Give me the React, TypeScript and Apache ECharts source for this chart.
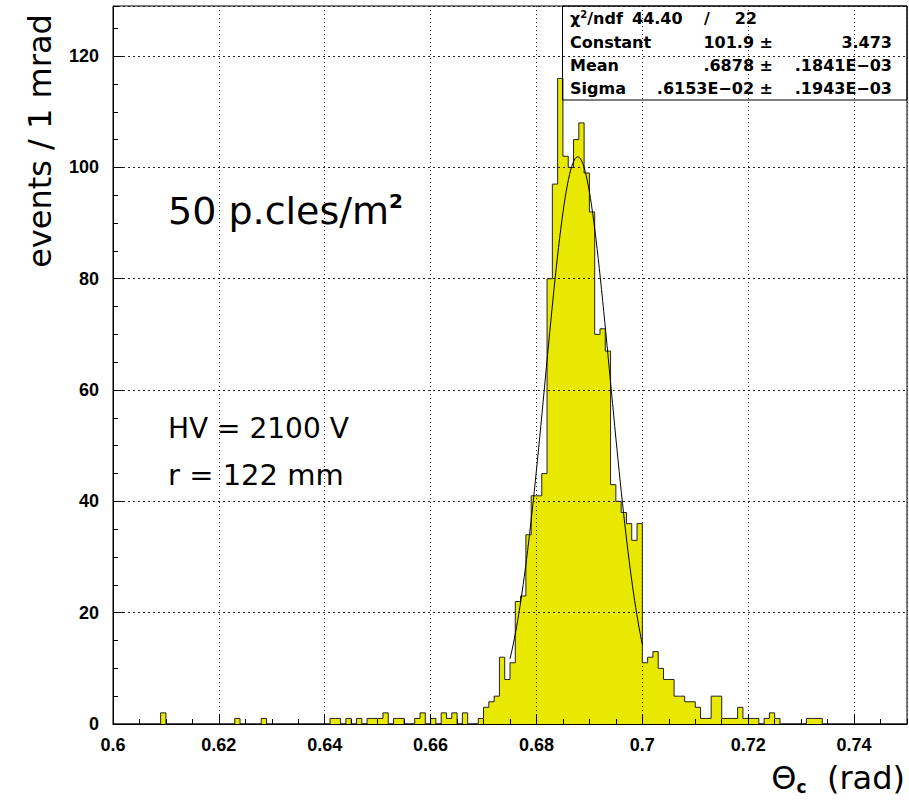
import React, { useEffect, useRef } from 'react';
import * as echarts from 'echarts';

// ---- histogram definition (1 mrad bins from 0.600 to 0.750 rad) ----
const BIN_START = 0.6;
const BIN_WIDTH = 0.001;
const X_MIN = 0.6;
const X_MAX = 0.75;
const Y_MIN = 0;
const Y_MAX = 129;

// events per bin, bin i covers [0.600 + i*0.001, 0.601 + i*0.001)
const COUNTS_0600_0629 = [0, 0, 0, 0, 0, 0, 0, 0, 0, 2, 0, 0, 0, 0, 0, 0, 0, 0, 0, 0, 0, 0, 0, 1, 0, 0, 0, 0, 1, 0];
const COUNTS_0630_0659 = [0, 0, 0, 0, 0, 0, 0, 0, 0, 0, 0, 1, 1, 0, 1, 0, 1, 0, 1, 1, 1, 2, 0, 1, 1, 0, 0, 1, 2, 0];
const COUNTS_0660_0689 = [1, 0, 2, 1, 2, 0, 2, 0, 0, 1, 3, 4, 5, 12, 8, 11, 22, 23, 34, 41, 41, 45, 80, 97, 116, 102, 100, 105, 108, 99];
const COUNTS_0690_0719 = [92, 70, 71, 67, 43, 40, 38, 36, 33, 36, 11, 12, 13, 10, 8, 8, 5, 5, 4, 4, 3, 1, 1, 5, 5, 1, 1, 1, 3, 1];
const COUNTS_0720_0749 = [1, 1, 0, 1, 2, 1, 0, 0, 0, 0, 0, 1, 1, 1, 0, 0, 0, 0, 0, 0, 0, 0, 0, 0, 0, 0, 0, 0, 0, 0];

// ---- gaussian fit results (as printed in the stats box) ----
const FIT_CONSTANT = 101.9;
const FIT_MEAN = 0.6878;
const FIT_SIGMA = 0.006153;
const FIT_FROM = 0.675;
const FIT_TO = 0.7;
const FIT_SAMPLES = 120;

const CHI2 = '44.40';
const NDF = '22';
const STAT_LABELS = ['Constant', 'Mean', 'Sigma'];
const STAT_VALUES = ['101.9 \u00b1', '.6878 \u00b1', '.6153E\u221202 \u00b1'];
const STAT_ERRORS = ['3.473', '.1841E\u221203', '.1943E\u221203'];

const Y_TITLE = 'events / 1 mrad';
const X_TITLE_MAIN = '\u0398';
const X_TITLE_SUB = 'c';
const X_TITLE_UNIT = '(rad)';
const NOTE_DENSITY = '50 p.cles/m';
const NOTE_DENSITY_SUP = '2';
const NOTE_HV = 'HV = 2100 V';
const NOTE_R = 'r = 122 mm';

const ALL_COUNTS = [
  ...COUNTS_0600_0629,
  ...COUNTS_0630_0659,
  ...COUNTS_0660_0689,
  ...COUNTS_0690_0719,
  ...COUNTS_0720_0749,
];

const GRID = { left: 113, top: 6, right: 2, bottom: 80 };
const DJ = 'DejaVu Sans';
const LIB = 'Liberation Sans';

export default function App() {
  const ref = useRef<HTMLDivElement>(null);

  useEffect(() => {
    if (!ref.current) return;
    const chart = echarts.init(ref.current, null, { renderer: 'svg' });

    const histPoints: number[][] = ALL_COUNTS.map((c, i) => [
      +(BIN_START + i * BIN_WIDTH).toFixed(4),
      c,
    ]);
    histPoints.push([+(BIN_START + ALL_COUNTS.length * BIN_WIDTH).toFixed(4), 0]);

    const fitPoints: number[][] = [];
    for (let k = 0; k <= FIT_SAMPLES; k++) {
      const x = FIT_FROM + ((FIT_TO - FIT_FROM) * k) / FIT_SAMPLES;
      const z = (x - FIT_MEAN) / FIT_SIGMA;
      fitPoints.push([x, FIT_CONSTANT * Math.exp(-0.5 * z * z)]);
    }

    const statsLeft = 562.5;
    const statsTop = 6;
    const rowY = [18, 42, 65, 88];

    const graphics: any[] = [
      // y title
      {
        type: 'text',
        x: 40,
        y: 141,
        rotation: Math.PI / 2,
        z: 20,
        style: {
          text: Y_TITLE,
          fontFamily: DJ,
          fontSize: 32,
          fill: '#000',
          align: 'center',
          verticalAlign: 'middle',
        },
      },
      // x title
      {
        type: 'text',
        x: 905,
        y: 778,
        z: 20,
        style: {
          text: `{a|${X_TITLE_MAIN}}{s|${X_TITLE_SUB}}{a|  ${X_TITLE_UNIT}}`,
          align: 'right',
          verticalAlign: 'middle',
          rich: {
            a: { fontFamily: DJ, fontSize: 32, fill: '#000', lineHeight: 34, verticalAlign: 'middle' },
            s: { fontFamily: DJ, fontSize: 17, fontWeight: 'bold', fill: '#000', lineHeight: 34, verticalAlign: 'bottom' },
          },
        },
      },
      // annotations
      {
        type: 'text',
        x: 168,
        y: 211,
        z: 20,
        style: {
          text: `{a|${NOTE_DENSITY}}{s|${NOTE_DENSITY_SUP}}`,
          align: 'left',
          verticalAlign: 'middle',
          rich: {
            a: { fontFamily: DJ, fontSize: 38, fill: '#000', lineHeight: 40, verticalAlign: 'middle' },
            s: { fontFamily: DJ, fontSize: 20, fontWeight: 'bold', fill: '#000', lineHeight: 40, verticalAlign: 'top' },
          },
        },
      },
      {
        type: 'text',
        x: 168,
        y: 428,
        z: 20,
        style: { text: NOTE_HV, fontFamily: DJ, fontSize: 28, fill: '#000', align: 'left', verticalAlign: 'middle' },
      },
      {
        type: 'text',
        x: 168,
        y: 475,
        z: 20,
        style: { text: NOTE_R, fontFamily: DJ, fontSize: 29, fill: '#000', align: 'left', verticalAlign: 'middle' },
      },
      // stats box
      {
        type: 'rect',
        z: 20,
        shape: { x: statsLeft, y: statsTop, width: 909 - GRID.right - statsLeft, height: 94 },
        style: { fill: 'transparent', stroke: '#000', lineWidth: 1 },
      },
      {
        type: 'text',
        x: 570,
        y: rowY[0],
        z: 21,
        style: {
          text: '{a|\u03c7}{s|2}{a|/ndf}',
          align: 'left',
          verticalAlign: 'middle',
          rich: {
            a: { fontFamily: DJ, fontSize: 16, fontWeight: 'bold', fill: '#000', lineHeight: 18, verticalAlign: 'middle' },
            s: { fontFamily: DJ, fontSize: 10, fontWeight: 'bold', fill: '#000', lineHeight: 18, verticalAlign: 'top' },
          },
        },
      },
      {
        type: 'text', x: 632, y: rowY[0], z: 21,
        style: { text: CHI2, fontFamily: DJ, fontSize: 16, fontWeight: 'bold', fill: '#000', align: 'left', verticalAlign: 'middle' },
      },
      {
        type: 'text', x: 707, y: rowY[0], z: 21,
        style: { text: '/', fontFamily: DJ, fontSize: 16, fontWeight: 'bold', fill: '#000', align: 'center', verticalAlign: 'middle' },
      },
      {
        type: 'text', x: 757, y: rowY[0], z: 21,
        style: { text: NDF, fontFamily: DJ, fontSize: 16, fontWeight: 'bold', fill: '#000', align: 'right', verticalAlign: 'middle' },
      },
    ];

    STAT_LABELS.forEach((lab, i) => {
      const y = rowY[i + 1];
      graphics.push(
        {
          type: 'text', x: 570, y, z: 21,
          style: { text: lab, fontFamily: DJ, fontSize: 16, fontWeight: 'bold', fill: '#000', align: 'left', verticalAlign: 'middle' },
        },
        {
          type: 'text', x: 773, y, z: 21,
          style: { text: STAT_VALUES[i], fontFamily: DJ, fontSize: 16, fontWeight: 'bold', fill: '#000', align: 'right', verticalAlign: 'middle' },
        },
        {
          type: 'text', x: 892, y, z: 21,
          style: { text: STAT_ERRORS[i], fontFamily: DJ, fontSize: 16, fontWeight: 'bold', fill: '#000', align: 'right', verticalAlign: 'middle' },
        }
      );
    });

    const option: any = {
      animation: false,
      backgroundColor: '#fff',
      grid: {
        ...GRID,
        show: true,
        borderColor: '#000',
        borderWidth: 1,
        backgroundColor: 'transparent',
      },
      xAxis: [
        {
          type: 'value',
          min: X_MIN,
          max: X_MAX,
          interval: 0.02,
          z: 5,
          axisLine: { show: true, lineStyle: { color: '#000', width: 1 } },
          axisTick: { show: true, inside: true, length: 10, lineStyle: { color: '#000' } },
          axisLabel: {
            margin: 12,
            color: '#000',
            fontFamily: LIB,
            fontWeight: 'bold',
            fontSize: 18,
            showMaxLabel: false,
            formatter: (v: number) => String(+v.toFixed(3)),
          },
          splitLine: { show: true, lineStyle: { color: '#222', type: [1, 3], width: 1 } },
        },
        {
          type: 'value',
          min: X_MIN,
          max: X_MAX,
          interval: 0.005,
          position: 'bottom',
          z: 5,
          axisLine: { show: false },
          axisTick: { show: true, inside: true, length: 5, lineStyle: { color: '#000' } },
          axisLabel: { show: false },
          splitLine: { show: false },
        },
      ],
      yAxis: [
        {
          type: 'value',
          min: Y_MIN,
          max: Y_MAX,
          interval: 20,
          z: 5,
          axisLine: { show: true, lineStyle: { color: '#000', width: 1 } },
          axisTick: { show: true, inside: true, length: 10, lineStyle: { color: '#000' } },
          axisLabel: {
            margin: 14,
            color: '#000',
            fontFamily: LIB,
            fontWeight: 'bold',
            fontSize: 18,
            showMaxLabel: false,
          },
          splitLine: { show: true, lineStyle: { color: '#222', type: [2, 3], width: 1 } },
        },
        {
          type: 'value',
          min: Y_MIN,
          max: Y_MAX,
          interval: 5,
          position: 'left',
          z: 5,
          axisLine: { show: false },
          axisTick: { show: true, inside: true, length: 5, lineStyle: { color: '#000' } },
          axisLabel: { show: false },
          splitLine: { show: false },
        },
      ],
      series: [
        {
          type: 'line',
          name: 'events',
          xAxisIndex: 0,
          yAxisIndex: 0,
          data: histPoints,
          step: 'end',
          symbol: 'none',
          silent: true,
          z: 2,
          lineStyle: { color: '#222', width: 1 },
          areaStyle: { color: '#e8e800', opacity: 1, origin: 'start' },
        },
        {
          type: 'line',
          name: 'gaussian fit',
          xAxisIndex: 0,
          yAxisIndex: 0,
          data: fitPoints,
          symbol: 'none',
          silent: true,
          z: 3,
          lineStyle: { color: '#000', width: 1 },
        },
      ],
      graphic: graphics,
    };

    chart.setOption(option);
    return () => chart.dispose();
  }, []);

  return (
    <div
      ref={ref}
      style={{ position: 'fixed', left: 0, top: 0, width: 909, height: 804, background: '#fff' }}
    />
  );
}
